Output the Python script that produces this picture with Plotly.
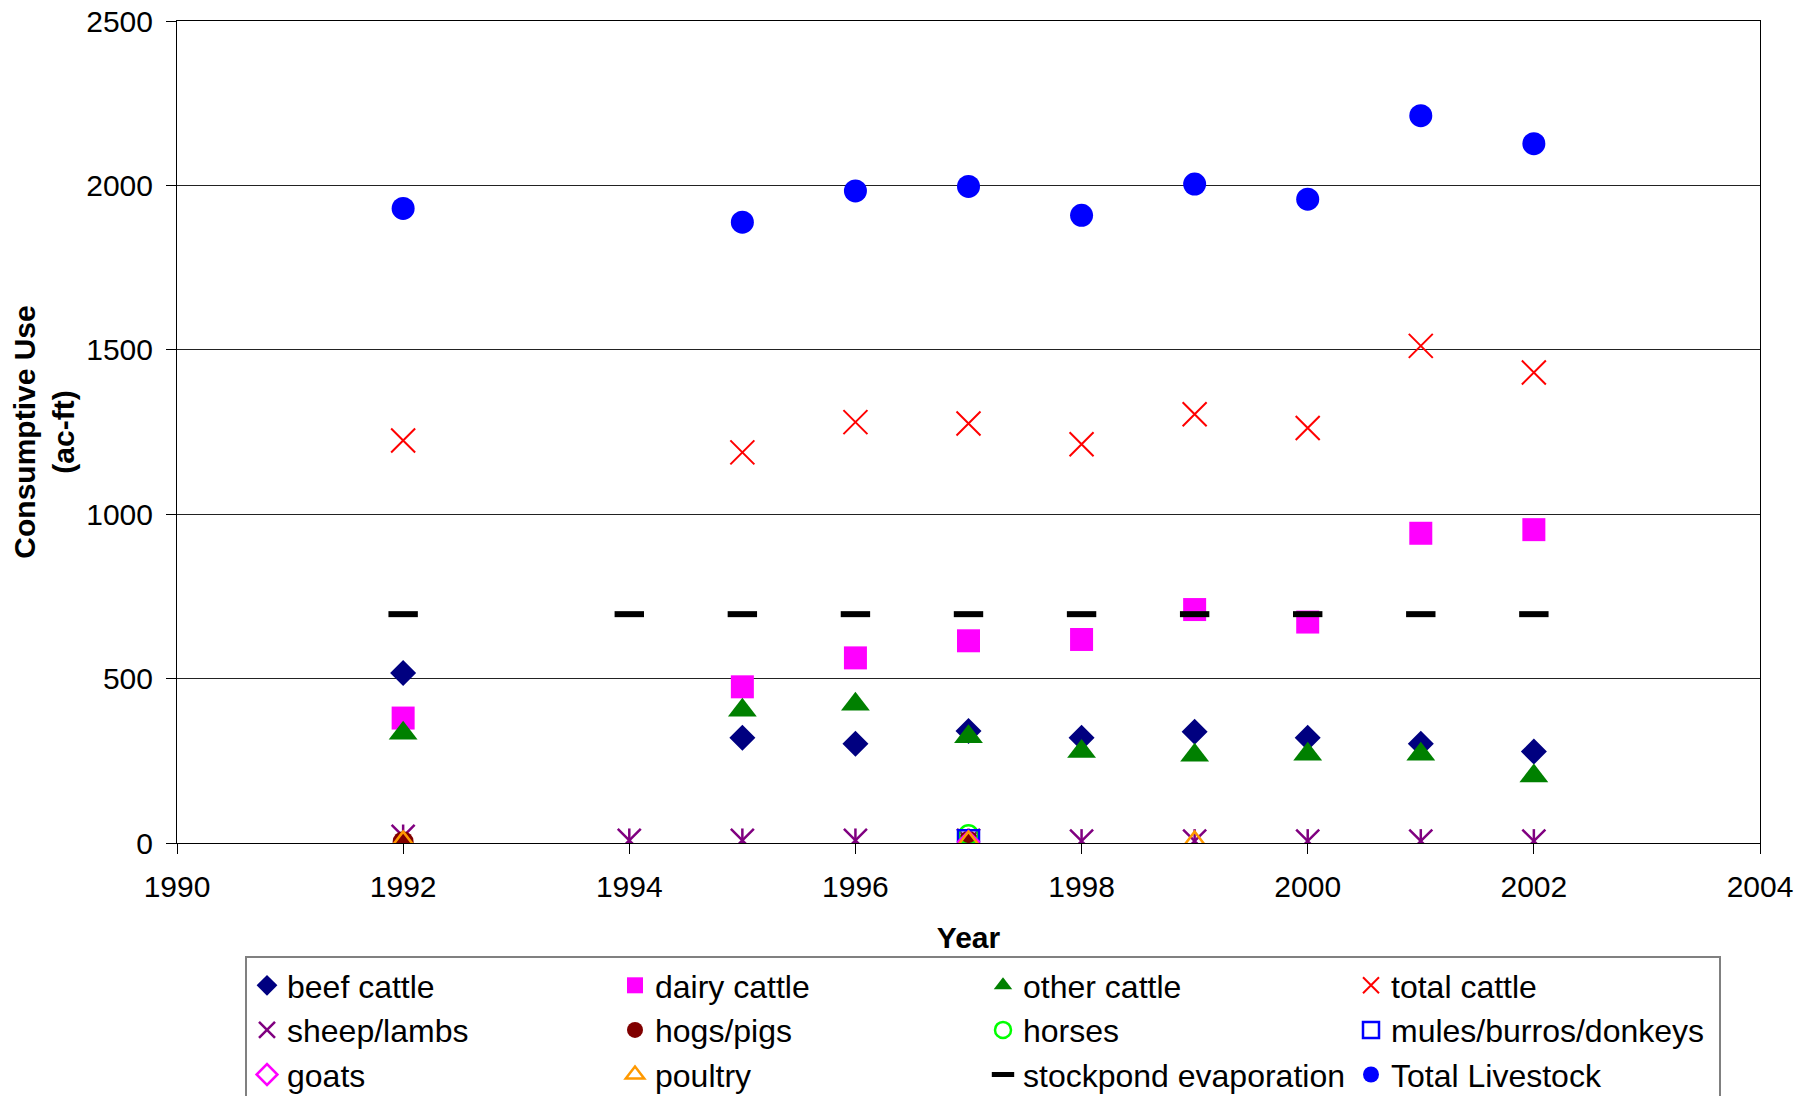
import plotly.graph_objects as go

# ---- data ----
years_main = [1992, 1995, 1996, 1997, 1998, 1999, 2000, 2001, 2002]
beef_cattle = [517, 320, 302, 341, 320, 338, 320, 302, 278]
dairy_cattle = [380, 475, 563, 615, 619, 710, 672, 942, 953]
other_cattle = [334, 404, 422, 323, 278, 267, 270, 270, 204]
total_cattle = [1224, 1188, 1280, 1276, 1213, 1304, 1262, 1512, 1431]
total_livestock = [1930, 1888, 1983, 1997, 1909, 2004, 1958, 2212, 2127]

years_sheep = [1992, 1994, 1995, 1996, 1997, 1998, 1999, 2000, 2001, 2002]
sheep_lambs = [20, 8, 8, 8, 8, 6, 6, 6, 6, 6]

years_hogs = [1992, 1997]
hogs_pigs = [4, 5]
years_horses = [1997]
horses = [25]
years_mules = [1997]
mules = [7]
years_goats = [1997]
goats = [4]
years_poultry = [1992, 1997, 1999]
poultry = [1, 1, 1]

years_pond = [1992, 1994, 1995, 1996, 1997, 1998, 1999, 2000, 2001, 2002]
stockpond = [696, 696, 696, 696, 696, 696, 696, 696, 696, 696]

x_ticks = [1990, 1992, 1994, 1996, 1998, 2000, 2002, 2004]
y_ticks = [0, 500, 1000, 1500, 2000, 2500]

FONT = "Liberation Sans, Arial, sans-serif"
W, H = 1806, 1088   # page body has an 8px margin

fig = go.Figure()

def add(name, x, y, symbol, color, size, lw=0, lcolor=None, showlegend=True, group=None):
    fig.add_trace(go.Scatter(
        x=x, y=y, mode="markers", name=name, showlegend=showlegend,
        legendgroup=group or name,
        marker=dict(symbol=symbol, color=color, size=size,
                    line=dict(width=lw, color=lcolor or color)),
    ))

add("beef cattle", years_main, beef_cattle, "diamond", "#000080", 20)
add("dairy cattle", years_main, dairy_cattle, "square", "#FF00FF", 23)
add("other cattle", years_main, other_cattle, "triangle-up", "#008000", 25)
add("total cattle", years_main, total_cattle, "x-thin-open", "#FF0000", 24, lw=2)
add("sheep/lambs", years_sheep, sheep_lambs, "x-thin-open", "#800080", 23, lw=2.5)
add("sheep/lambs", years_sheep, sheep_lambs, "line-ns-open", "#800080", 17, lw=2.5,
    showlegend=False, group="sheep/lambs")
add("hogs/pigs", years_hogs, hogs_pigs, "circle", "#800000", 21)
add("horses", years_horses, horses, "circle-open", "#00FF00", 19, lw=2.5)
add("mules/burros/donkeys", years_mules, mules, "square-open", "#0000FF", 21, lw=2.5)
add("goats", years_goats, goats, "diamond-open", "#FF00FF", 16, lw=2.5)
add("poultry", years_poultry, poultry, "triangle-up-open", "#FF9900", 22, lw=2.5)
add("stockpond evaporation", years_pond, stockpond, "line-ew-open", "#000000", 21, lw=6)
add("Total Livestock", years_main, total_livestock, "circle", "#0000FF", 23)

fig.update_layout(
    width=W, height=H,
    margin=dict(l=169, r=54, t=13, b=253, autoexpand=False),
    paper_bgcolor="white", plot_bgcolor="white",
    font=dict(family=FONT, color="black", size=30),
    showlegend=True,
    legend=dict(
        orientation="h", xref="container", yref="container",
        x=(245 - 8) / W, y=1 - (956 - 8) / H, xanchor="left", yanchor="top",
        entrywidth=323, entrywidthmode="pixels",
        bordercolor="#808080", borderwidth=2, bgcolor="white",
        font=dict(family=FONT, size=32, color="black"),
        traceorder="normal",
    ),
    xaxis=dict(
        range=[1990, 2004], tickvals=x_ticks, ticktext=[str(v) for v in x_ticks],
        showgrid=False, zeroline=False, automargin=False,
        showline=True, linecolor="black", linewidth=1, mirror=True,
        ticks="outside", ticklen=10, tickcolor="black", ticklabelstandoff=7,
        ticklabeloverflow="allow",
        tickfont=dict(size=30),
        title=dict(text="Year", font=dict(size=30, weight="bold"), standoff=24),
    ),
    yaxis=dict(
        range=[0, 2500], tickvals=y_ticks, ticktext=[str(v) for v in y_ticks],
        showgrid=True, gridcolor="#222222", gridwidth=1, zeroline=False, automargin=False,
        showline=True, linecolor="black", linewidth=1, mirror=True,
        ticks="outside", ticklen=10, tickcolor="black", ticklabelstandoff=7,
        ticklabeloverflow="allow",
        tickfont=dict(size=30),
        title=dict(text="Consumptive Use<br>(ac-ft)", font=dict(size=30, weight="bold"), standoff=20),
    ),
)

fig.write_html("out.html")
